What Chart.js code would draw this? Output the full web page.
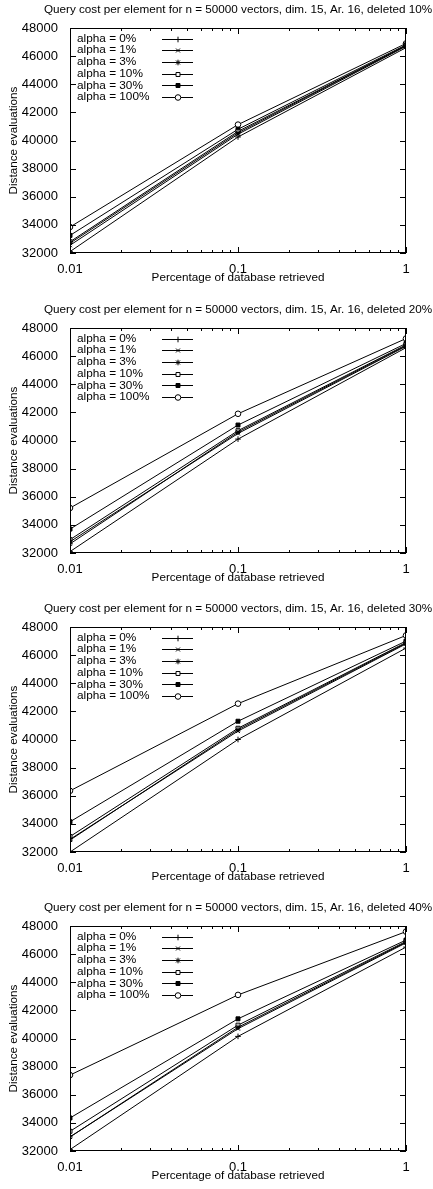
<!DOCTYPE html>
<html>
<head>
<meta charset="utf-8">
<script src="https://cdn.jsdelivr.net/npm/chart.js@4.4.1/dist/chart.umd.min.js"></script>
<style>
  body { margin: 0; background: #fff; }
  canvas { display: block; }
</style>
</head>
<body>
<canvas id="c10" width="433" height="300"></canvas>
<canvas id="c20" width="433" height="299"></canvas>
<canvas id="c30" width="433" height="299"></canvas>
<canvas id="c40" width="433" height="291"></canvas>
<script>
// fraction of database retrieved (log axis)
const retrieved = [0.01, 0.1, 1];
const alphaNames = ["alpha = 0%", "alpha = 1%", "alpha = 3%", "alpha = 10%", "alpha = 30%", "alpha = 100%"];
const yTicks = [32000, 34000, 36000, 38000, 40000, 42000, 44000, 46000, 48000];

// distance evaluations, one row per alpha (0%, 1%, 3%, 10%, 30%, 100%)
const deleted10 = [
  [32100, 40250, 46600],
  [32550, 40450, 46700],
  [32700, 40550, 46750],
  [32800, 40650, 46750],
  [33250, 40800, 46800],
  [33850, 41130, 46900]
];
const deleted20 = [
  [32100, 40100, 46600],
  [32800, 40500, 46700],
  [32650, 40600, 46750],
  [32950, 40700, 46800],
  [33700, 41100, 46900],
  [35200, 41900, 47250]
];
const deleted30 = [
  [32000, 40000, 46500],
  [32900, 40600, 46800],
  [32850, 40700, 46850],
  [33100, 40800, 46900],
  [34150, 41300, 47000],
  [36350, 42550, 47400]
];
const deleted40 = [
  [32100, 40150, 46500],
  [33000, 40700, 46800],
  [33000, 40800, 46850],
  [33400, 40950, 46900],
  [34350, 41400, 47000],
  [37400, 43100, 47600]
];

const markers = [
  { style: 'cross', fill: '#000' },
  { style: 'crossRot', fill: '#000' },
  { style: 'star', fill: '#000' },
  { style: 'rect', fill: '#fff' },
  { style: 'rect', fill: '#000' },
  { style: 'circle', fill: '#fff' }
];

const FONT = '"Liberation Sans", Arial, Helvetica, sans-serif';

// frame, inward ticks, titles and the key inside the plot
const decor = {
  id: 'decor',
  afterDraw(chart, args, opts) {
    const { ctx, chartArea: a, scales: { x, y } } = chart;
    ctx.save();
    ctx.strokeStyle = '#000';
    ctx.lineWidth = 1;
    ctx.strokeRect(a.left + 0.5, a.top + 0.5, a.right - a.left - 1, a.bottom - a.top - 1);

    ctx.beginPath();
    for (const v of yTicks) {
      const py = Math.round(y.getPixelForValue(v)) + 0.5;
      ctx.moveTo(a.left, py); ctx.lineTo(a.left + 6, py);
      ctx.moveTo(a.right, py); ctx.lineTo(a.right - 6, py);
    }
    for (let d = 0.01; d < 1.5; d *= 10) {
      for (let m = 1; m <= 9; m++) {
        const v = d * m;
        if (v > 1.0001) break;
        const px = Math.round(x.getPixelForValue(v)) + 0.5;
        const len = m === 1 ? 6 : 3;
        ctx.moveTo(px, a.bottom); ctx.lineTo(px, a.bottom - len);
        ctx.moveTo(px, a.top); ctx.lineTo(px, a.top + len);
      }
    }
    ctx.stroke();

    ctx.fillStyle = '#000';
    ctx.textAlign = 'center';
    ctx.textBaseline = 'middle';
    ctx.font = '11.7px ' + FONT;
    ctx.fillText(opts.title, (a.left + a.right) / 2, 10);
    ctx.font = '11.7px ' + FONT;
    ctx.fillText('Percentage of database retrieved', (a.left + a.right) / 2, 278);
    ctx.save();
    ctx.translate(14, (a.top + a.bottom) / 2);
    ctx.rotate(-Math.PI / 2);
    ctx.fillText('Distance evaluations', 0, 0);
    ctx.restore();

    // key
    ctx.textAlign = 'left';
    ctx.font = '11.8px ' + FONT;
    chart.data.datasets.forEach((ds, i) => {
      const ky = a.top + 10.5 + i * 11.7;
      ctx.fillStyle = '#000';
      ctx.fillText(ds.label, a.left + 7, ky);
      ctx.beginPath();
      ctx.moveTo(a.left + 92, Math.round(ky) + 0.5);
      ctx.lineTo(a.left + 123, Math.round(ky) + 0.5);
      ctx.stroke();
      ctx.fillStyle = ds.pointBackgroundColor;
      Chart.helpers.drawPoint(ctx, { pointStyle: ds.pointStyle, radius: ds.pointRadius, rotation: 0, borderWidth: 1 },
        a.left + 108, Math.round(ky) + 0.5);
    });
    ctx.restore();
  }
};

function makeChart(id, rows, label, height) {
  const datasets = rows.map((vals, i) => ({
    label: alphaNames[i],
    data: retrieved.map((r, j) => ({ x: r, y: vals[j] })),
    borderColor: '#000',
    borderWidth: 1,
    pointStyle: markers[i].style,
    pointRadius: 2.8,
    pointBorderWidth: 1,
    pointBorderColor: '#000',
    pointBackgroundColor: markers[i].fill,
    tension: 0
  }));
  return new Chart(id, {
    type: 'line',
    data: { datasets },
    plugins: [decor],
    options: {
      responsive: false,
      animation: false,
      events: [],
      layout: { padding: { top: 28, right: 27, left: 0, bottom: 0 } },
      plugins: {
        legend: { display: false },
        tooltip: { enabled: false },
        decor: { title: 'Query cost per element for n = 50000 vectors, dim. 15, Ar. 16, deleted ' + label }
      },
      scales: {
        x: {
          type: 'logarithmic',
          min: 0.01,
          max: 1,
          afterFit(s) { s.height = height - 253; },
          afterBuildTicks(s) { s.ticks = retrieved.map(v => ({ value: v })); },
          ticks: {
            autoSkip: false,
            maxRotation: 0,
            padding: 1,
            color: '#000',
            font: { family: FONT, size: 13 },
            callback: v => String(v)
          },
          grid: { display: false },
          border: { display: false }
        },
        y: {
          min: 32000,
          max: 48000,
          afterFit(s) { s.width = 70; },
          afterBuildTicks(s) { s.ticks = yTicks.map(v => ({ value: v })); },
          ticks: {
            padding: 4,
            color: '#000',
            font: { family: FONT, size: 13 },
            callback: v => String(v)
          },
          grid: { display: false },
          border: { display: false }
        }
      }
    }
  });
}

makeChart('c10', deleted10, '10%', 300);
makeChart('c20', deleted20, '20%', 299);
makeChart('c30', deleted30, '30%', 299);
makeChart('c40', deleted40, '40%', 291);
</script>
</body>
</html>
